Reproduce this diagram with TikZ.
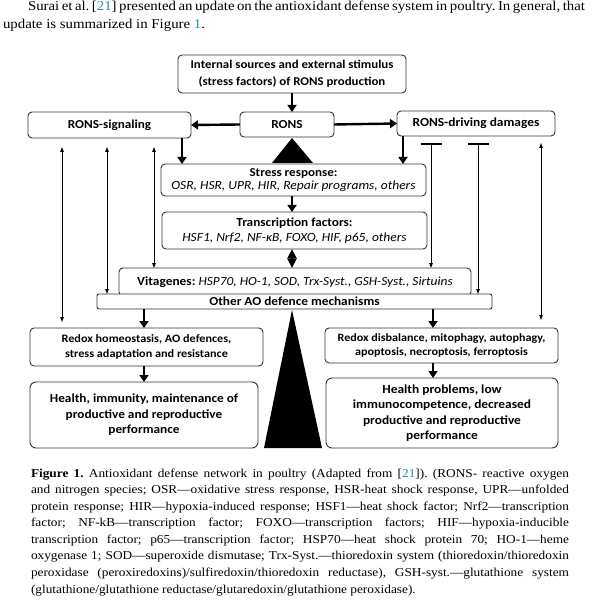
\documentclass[tikz,border=0pt]{standalone}
\usepackage{fontspec}
\setmainfont{Liberation Serif}[FakeStretch=1.1]
\newfontfamily\diagfont{Carlito}[FakeStretch=1.08]
\usetikzlibrary{arrows.meta,calc}
\definecolor{linkblue}{RGB}{40,140,180}
\frenchspacing

\begin{document}
\begin{tikzpicture}
	[x=1pt,y=-1pt,every node/.style={inner sep=0pt,outer sep=0pt},
	 box/.style={draw=black!80,line width=0.9pt,rounded corners=4pt,fill=white,align=center,
	   font=\diagfont\bfseries\fontsize{11.9}{16.5}\selectfont},
	 bigarrow/.style={line width=2.4pt,-{Triangle[length=7pt,width=9pt]}},
	 diam/.style={line width=2.4pt,{Triangle[length=9.5pt,width=9pt]}-{Triangle[length=9.5pt,width=9pt]}},
	 thinboth/.style={line width=0.9pt,{Triangle[length=5pt,width=3.5pt]}-{Triangle[length=5pt,width=3.5pt]}},
	 thinbar/.style={line width=0.9pt,{Bar[width=21pt,line width=2.4pt]}-{Triangle[length=5pt,width=3.5pt]}},
	 textline/.style={anchor=base west,font=\fontsize{12.1}{16}\selectfont}]
	\useasboundingbox (0,0) rectangle (600,601);
	
	% text above the figure
	\node[textline,font=\fontsize{13.5}{18}\selectfont] (par1) at (28,11) {\makebox[555pt][s]{Surai et al. [\textcolor{linkblue}{21}] presented an update on the antioxidant defense system in poultry. In general, that}};
	\node[textline,font=\fontsize{13.5}{18}\selectfont] (par2) at (3,29) {update is summarized in Figure \textcolor{linkblue}{1}.};
	
	% boxes
	\node[box,minimum width=228pt,minimum height=38pt] (src) at (292,74) {Internal sources and external stimulus\\(stress factors) of RONS production};
	\node[box,minimum width=94pt,minimum height=25pt,font=\diagfont\bfseries\fontsize{12.3}{14}\selectfont] (rons) at (287,124.5) {RONS};
	\node[box,minimum width=163pt,minimum height=26pt,font=\diagfont\bfseries\fontsize{12.2}{14}\selectfont] (sig) at (109.5,125) {RONS-signaling};
	\node[box,minimum width=158pt,minimum height=25pt,font=\diagfont\bfseries\fontsize{12.4}{14}\selectfont] (dmg) at (476,123.5) {RONS-driving damages};
	\node[box,minimum width=265pt,minimum height=32pt,font=\diagfont\bfseries\fontsize{12.1}{13}\selectfont] (stress) at (293.5,180) {Stress response:\\\mdseries\itshape\fontsize{12.5}{13}\selectfont OSR, HSR, UPR, HIR, Repair programs, others};
	\node[box,minimum width=265pt,minimum height=37pt,font=\diagfont\bfseries\fontsize{12.3}{15}\selectfont] (tf) at (294.5,230.5) {Transcription factors:\\\mdseries\itshape\fontsize{12.5}{15}\selectfont HSF1, Nrf2, NF-κB, FOXO, HIF, p65, others};
	\node[box,minimum width=352pt,minimum height=28pt,font=\diagfont\bfseries\fontsize{12.4}{14}\selectfont] (vit) at (295,282) {\raisebox{1pt}{Vitagenes: \mdseries\itshape HSP70, HO-1, SOD, Trx-Syst., GSH-Syst., Sirtuins}};
	\node[box,rounded corners=2pt,minimum width=395pt,minimum height=15pt,font=\diagfont\bfseries\fontsize{12.3}{14}\selectfont] (ao) at (294.5,301.5) {Other AO defence mechanisms};
	\node[box,minimum width=233pt,minimum height=38pt,font=\diagfont\bfseries\fontsize{11.3}{15}\selectfont] (homeo) at (146.5,347) {Redox homeostasis, AO defences,\\stress adaptation and resistance};
	\node[box,rounded corners=6pt,minimum width=228pt,minimum height=66pt,font=\diagfont\bfseries\fontsize{12.3}{15.5}\selectfont] (health) at (144,415) {Health, immunity, maintenance of\\productive and reproductive\\performance};
	\node[box,minimum width=233pt,minimum height=35pt,font=\diagfont\bfseries\fontsize{11.2}{14}\selectfont] (disb) at (441.5,345.5) {Redox disbalance, mitophagy, autophagy,\\apoptosis, necroptosis, ferroptosis};
	\node[box,rounded corners=6pt,minimum width=232pt,minimum height=70pt,font=\diagfont\bfseries\fontsize{12.4}{15.5}\selectfont] (prob) at (442,413) {Health problems, low\\immunocompetence, decreased\\productive and reproductive\\performance};
	
	% arrow positions
	\coordinate (xmid) at (292,0);
	\coordinate (xl) at (182,0);
	\coordinate (xr) at (403,0);
	\coordinate (xlo) at (144,0);
	\coordinate (xro) at (433,0);
	\coordinate (xa) at (62,0);
	\coordinate (xb) at (107,0);
	\coordinate (xc) at (154,0);
	\coordinate (xd) at (431,0);
	\coordinate (xe) at (478,0);
	\coordinate (xf) at (541,0);
	
	% triangles
	\fill (292,138) -- (313,163) -- (272,163) -- cycle;
	\fill (292,310) -- (322,448) -- (264,448) -- cycle;
	
	% thick arrows
	\draw[bigarrow] (src.south -| xmid) -- (rons.north -| xmid);
	\draw[bigarrow] (rons.west) -- (sig.east);
	\draw[bigarrow] (rons.east) -- (dmg.west);
	\draw[bigarrow] (sig.south -| xl) -- (stress.north -| xl);
	\draw[bigarrow] (dmg.south -| xr) -- (stress.north -| xr);
	\draw[bigarrow] (stress.south -| xmid) -- (tf.north -| xmid);
	\draw[diam] (tf.south -| xmid) -- (vit.north -| xmid);
	\draw[bigarrow] (ao.south -| xlo) -- (homeo.north -| xlo);
	\draw[bigarrow] (ao.south -| xro) -- (disb.north -| xro);
	\draw[bigarrow] (homeo.south -| xlo) -- (health.north -| xlo);
	\draw[bigarrow] (disb.south -| xro) -- (prob.north -| xro);
	
	% thin arrows
	\draw[thinboth,shorten >=6pt] ([yshift=-9pt]sig.south -| xa) -- (homeo.north -| xa);
	\draw[thinboth] ([yshift=-9pt]sig.south -| xb) -- (ao.north -| xb);
	\draw[thinboth] ([yshift=-9pt]sig.south -| xc) -- (vit.north -| xc);
	\draw[thinbar] ([yshift=-7pt]dmg.south -| xd) -- (vit.north -| xd);
	\draw[thinbar] ([yshift=-7pt]dmg.south -| xe) -- (ao.north -| xe);
	\draw[thinboth,shorten >=8pt] ([yshift=-7pt]dmg.south -| xf) -- (disb.north -| xf);
	
	% caption
	\node[textline] (cap1) at (31,477) {\makebox[538pt][s]{\textbf{Figure 1.} Antioxidant defense network in poultry (Adapted from [\textcolor{linkblue}{21}]). (RONS- reactive oxygen}};
	\node[textline] (cap2) at (31,493.6) {\makebox[538pt][s]{and nitrogen species; OSR—oxidative stress response, HSR-heat shock response, UPR—unfolded}};
	\node[textline] (cap3) at (31,510.1) {\makebox[538pt][s]{protein response; HIR—hypoxia-induced response; HSF1—heat shock factor; Nrf2—transcription}};
	\node[textline] (cap4) at (31,526.7) {\makebox[538pt][s]{factor; NF-kB—transcription factor; FOXO—transcription factors; HIF—hypoxia-inducible}};
	\node[textline] (cap5) at (31,543.3) {\makebox[538pt][s]{transcription factor; p65—transcription factor; HSP70—heat shock protein 70; HO-1—heme}};
	\node[textline] (cap6) at (31,559.9) {\makebox[538pt][s]{oxygenase 1; SOD—superoxide dismutase; Trx-Syst.—thioredoxin system (thioredoxin/thioredoxin}};
	\node[textline] (cap7) at (31,576.4) {\makebox[538pt][s]{peroxidase (peroxiredoxins)/sulfiredoxin/thioredoxin reductase), GSH-syst.—glutathione system}};
	\node[textline] (cap8) at (31,593) {(glutathione/glutathione reductase/glutaredoxin/glutathione peroxidase).};
\end{tikzpicture}
\end{document}
